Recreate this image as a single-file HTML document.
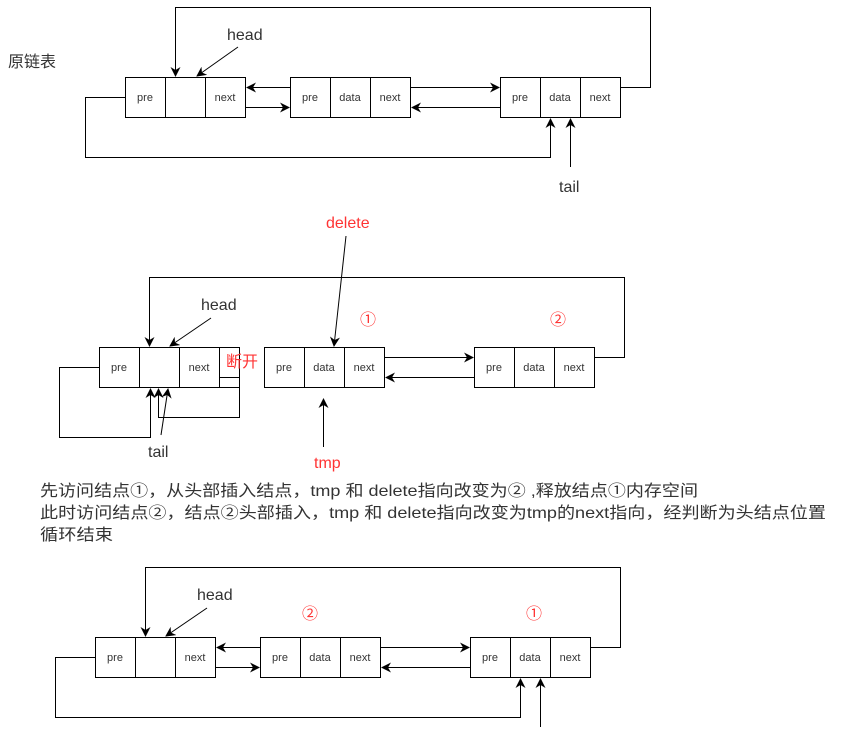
<!DOCTYPE html>
<html><head><meta charset="utf-8"><style>
html,body{margin:0;padding:0;background:#fff;}
svg{display:block;}
text{font-family:"Liberation Sans","Noto Sans CJK SC",sans-serif;}
.c{font-size:11px;fill:#333;text-anchor:middle;}
.l{font-size:16px;fill:#333;}
.r{fill:#ff3333;}
</style></head><body>
<svg width="841" height="736" viewBox="0 0 841 736" xmlns="http://www.w3.org/2000/svg">
<defs>
<marker id="a" markerWidth="10" markerHeight="10" refX="9" refY="5" orient="auto" markerUnits="userSpaceOnUse">
<path d="M0,0 L10,5 L0,10 L3,5 z" fill="#000"/></marker>
</defs>
<g fill="none" stroke="#000" stroke-width="1">
<!-- diagram 1 -->
<rect x="125.5" y="77.5" width="120" height="40"/><line x1="165.5" y1="77.5" x2="165.5" y2="117.5"/><line x1="205.5" y1="77.5" x2="205.5" y2="117.5"/>
<rect x="290.5" y="77.5" width="120" height="40"/><line x1="330.5" y1="77.5" x2="330.5" y2="117.5"/><line x1="370.5" y1="77.5" x2="370.5" y2="117.5"/>
<rect x="500.5" y="77.5" width="120" height="40"/><line x1="540.5" y1="77.5" x2="540.5" y2="117.5"/><line x1="580.5" y1="77.5" x2="580.5" y2="117.5"/>
<path d="M620.5,87.5 H650.5 V7.5 H175.5 V76" marker-end="url(#a)"/>
<line x1="238" y1="47" x2="197" y2="76" marker-end="url(#a)"/>
<line x1="290" y1="87.5" x2="247" y2="87.5" marker-end="url(#a)"/>
<line x1="246" y1="107.5" x2="289" y2="107.5" marker-end="url(#a)"/>
<line x1="411" y1="87.5" x2="499" y2="87.5" marker-end="url(#a)"/>
<line x1="500" y1="107.5" x2="412" y2="107.5" marker-end="url(#a)"/>
<path d="M125,97.5 H85.5 V157.5 H550.5 V119" marker-end="url(#a)"/>
<line x1="570.5" y1="167" x2="570.5" y2="119" marker-end="url(#a)"/>
<!-- diagram 2 -->
<rect x="99.5" y="347.5" width="140" height="40"/>
<rect x="99.5" y="347.5" width="120" height="40"/><line x1="139.5" y1="347.5" x2="139.5" y2="387.5"/><line x1="179.5" y1="347.5" x2="179.5" y2="387.5"/>
<rect x="264.5" y="347.5" width="120" height="40"/><line x1="304.5" y1="347.5" x2="304.5" y2="387.5"/><line x1="344.5" y1="347.5" x2="344.5" y2="387.5"/>
<rect x="474.5" y="347.5" width="120" height="40"/><line x1="514.5" y1="347.5" x2="514.5" y2="387.5"/><line x1="554.5" y1="347.5" x2="554.5" y2="387.5"/>
<path d="M594.5,357.5 H624.5 V277.5 H149.5 V346" marker-end="url(#a)"/>
<line x1="211" y1="318" x2="170" y2="346" marker-end="url(#a)"/>
<line x1="385" y1="357.5" x2="473" y2="357.5" marker-end="url(#a)"/>
<line x1="474" y1="377.5" x2="386" y2="377.5" marker-end="url(#a)"/>
<path d="M99,367.5 H59.5 V437.5 H150.5 V389" marker-end="url(#a)"/>
<path d="M219.5,377.5 H239.5 V417.5 H158.5 V389" marker-end="url(#a)"/>
<line x1="161" y1="435" x2="168" y2="389" marker-end="url(#a)"/>
<line x1="346" y1="236" x2="334" y2="346" marker-end="url(#a)"/>
<line x1="323.5" y1="447" x2="323.5" y2="399" marker-end="url(#a)"/>
<!-- diagram 3 -->
<rect x="95.5" y="637.5" width="120" height="40"/><line x1="135.5" y1="637.5" x2="135.5" y2="677.5"/><line x1="175.5" y1="637.5" x2="175.5" y2="677.5"/>
<rect x="260.5" y="637.5" width="120" height="40"/><line x1="300.5" y1="637.5" x2="300.5" y2="677.5"/><line x1="340.5" y1="637.5" x2="340.5" y2="677.5"/>
<rect x="470.5" y="637.5" width="120" height="40"/><line x1="510.5" y1="637.5" x2="510.5" y2="677.5"/><line x1="550.5" y1="637.5" x2="550.5" y2="677.5"/>
<path d="M590.5,647.5 H620.5 V567.5 H145.5 V636" marker-end="url(#a)"/>
<line x1="207" y1="608" x2="166" y2="636" marker-end="url(#a)"/>
<line x1="260" y1="647.5" x2="217" y2="647.5" marker-end="url(#a)"/>
<line x1="216" y1="667.5" x2="259" y2="667.5" marker-end="url(#a)"/>
<line x1="381" y1="647.5" x2="469" y2="647.5" marker-end="url(#a)"/>
<line x1="470" y1="667.5" x2="382" y2="667.5" marker-end="url(#a)"/>
<path d="M95,657.5 H55.5 V717.5 H520.5 V679" marker-end="url(#a)"/>
<line x1="540.5" y1="727" x2="540.5" y2="679" marker-end="url(#a)"/>
</g>
<g>
<text x="8" y="67" class="l">原链表</text>
<text x="227" y="40" class="l">head</text>
<text x="145" y="101" class="c">pre</text><text x="225" y="101" class="c">next</text>
<text x="310" y="101" class="c">pre</text><text x="350" y="101" class="c">data</text><text x="390" y="101" class="c">next</text>
<text x="520" y="101" class="c">pre</text><text x="560" y="101" class="c">data</text><text x="600" y="101" class="c">next</text>
<text x="559" y="192" class="l">tail</text>

<text x="326" y="228" class="l r">delete</text>
<text x="201" y="310" class="l">head</text>
<text x="360" y="325" class="l r">①</text>
<text x="550" y="325" class="l r">②</text>
<text x="119" y="371" class="c">pre</text><text x="199" y="371" class="c">next</text>
<text x="226" y="367" class="l r">断开</text>
<text x="284" y="371" class="c">pre</text><text x="324" y="371" class="c">data</text><text x="364" y="371" class="c">next</text>
<text x="494" y="371" class="c">pre</text><text x="534" y="371" class="c">data</text><text x="574" y="371" class="c">next</text>
<text x="148" y="457" class="l">tail</text>
<text x="314" y="468" class="l r">tmp</text>

<text x="40" y="496" class="l" textLength="658" lengthAdjust="spacingAndGlyphs">先访问结点①，从头部插入结点，tmp 和 delete指向改变为② ,释放结点①内存空间</text>
<text x="40" y="518" class="l" textLength="786" lengthAdjust="spacingAndGlyphs">此时访问结点②，结点②头部插入，tmp 和 delete指向改变为tmp的next指向，经判断为头结点位置</text>
<text x="40" y="540" class="l" textLength="73" lengthAdjust="spacingAndGlyphs">循环结束</text>

<text x="197" y="600" class="l">head</text>
<text x="302" y="619" class="l r">②</text>
<text x="526" y="619" class="l r">①</text>
<text x="115" y="661" class="c">pre</text><text x="195" y="661" class="c">next</text>
<text x="280" y="661" class="c">pre</text><text x="320" y="661" class="c">data</text><text x="360" y="661" class="c">next</text>
<text x="490" y="661" class="c">pre</text><text x="530" y="661" class="c">data</text><text x="570" y="661" class="c">next</text>
</g>
</svg>
</body></html>
